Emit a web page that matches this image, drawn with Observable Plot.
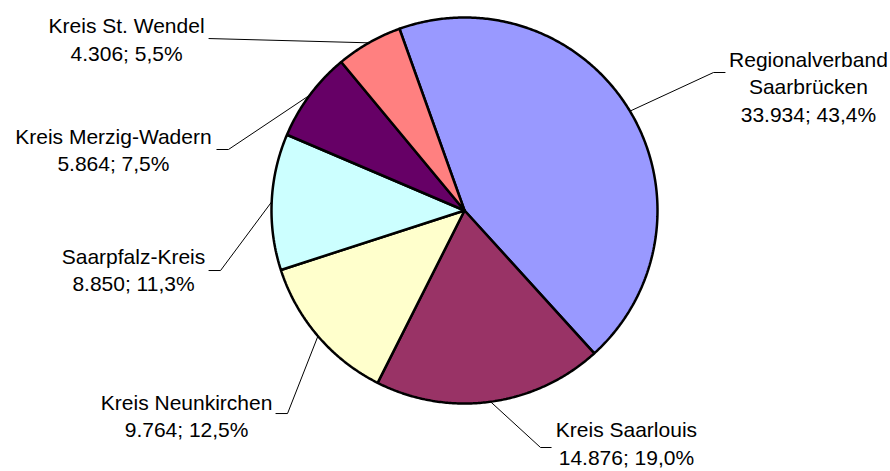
<!DOCTYPE html>
<html>
<head>
<meta charset="utf-8">
<script src="https://cdn.jsdelivr.net/npm/d3@7"></script>
<script src="https://cdn.jsdelivr.net/npm/@observablehq/plot@0.6"></script>
<style>
  html, body { margin: 0; padding: 0; background: #fff; }
  #chart { width: 890px; height: 471px; }
</style>
</head>
<body>
<div id="chart"></div>
<script>
// ---- data ----
const regions = ["Regionalverband\nSaarbrücken", "Kreis Saarlouis", "Kreis Neunkirchen", "Saarpfalz-Kreis", "Kreis Merzig-Wadern", "Kreis St. Wendel"];
const values = [33934, 14876, 9764, 8850, 5864, 4306];
const percentLabels = [43.4, 19.0, 12.5, 11.3, 7.5, 5.5];

// ---- styling / layout config ----
const sliceColors = ["#9999FF", "#993366", "#FFFFCC", "#CCFFFF", "#660066", "#FF8080"];
const startAngleDeg = 340.3; // clockwise from 12 o'clock
// label block centres, leader elbow and end points (in pie-radius units)
const labelPos = [[1.782, 0.648], [0.839, -1.200], [-1.440, -1.057], [-1.715, -0.301], [-1.819, 0.321], [-1.751, 0.894]];
const leaderElbow = [[1.290, 0.715], [0.394, -1.228], [-0.917, -1.052], [-1.264, -0.311], [-1.223, 0.316], [-1.326, 0.891]];
const leaderEnd = [[1.352, 0.715], [0.451, -1.228], [-0.979, -1.052], [-1.326, -0.311], [-1.285, 0.316], [-1.326, 0.891]];

const locale = d3.formatLocale({decimal: ",", thousands: ".", grouping: [3], currency: ["", " €"]});
const fmtInt = locale.format(",d");
const fmtPct = locale.format(".1f");

const total = d3.sum(values);
const rad = Math.PI / 180;
let acc = startAngleDeg;
const slices = values.map((v, i) => {
  const a0 = acc, a1 = acc + v / total * 360;
  acc = a1;
  const pts = [{x: 0, y: 0}];
  const n = Math.max(2, Math.ceil((a1 - a0) / 0.5));
  for (let k = 0; k <= n; k++) {
    const a = (a0 + (a1 - a0) * k / n) * rad;
    pts.push({x: Math.sin(a), y: Math.cos(a)});
  }
  pts.push({x: 0, y: 0});
  const mid = (a0 + a1) / 2 * rad;
  return {i, pts, mid};
});

const leaders = slices.flatMap(s => [
  {k: s.i, x: Math.sin(s.mid), y: Math.cos(s.mid)},
  {k: s.i, x: leaderElbow[s.i][0], y: leaderElbow[s.i][1]},
  {k: s.i, x: leaderEnd[s.i][0], y: leaderEnd[s.i][1]}
]);

const labels = regions.map((r, i) => ({
  x: labelPos[i][0], y: labelPos[i][1],
  text: `${r}\n${fmtInt(values[i])}; ${fmtPct(percentLabels[i])}%`
}));

const chart = Plot.plot({
  width: 890,
  height: 471,
  marginLeft: 271,
  marginRight: 233,
  marginTop: 17,
  marginBottom: 68,
  x: {domain: [-1, 1], axis: null},
  y: {domain: [-1, 1], axis: null},
  style: {background: "#fff", fontFamily: "'Liberation Sans', Arial, sans-serif"},
  marks: [
    ...slices.map(s => Plot.line(s.pts, {
      x: "x", y: "y", fill: sliceColors[s.i], stroke: "#000",
      strokeWidth: 2.5, strokeLinejoin: "miter", curve: "linear"
    })),
    Plot.line(leaders, {x: "x", y: "y", z: "k", stroke: "#000", strokeWidth: 1, strokeLinejoin: "miter", strokeLinecap: "butt"}),
    Plot.text(labels, {
      x: "x", y: "y", text: "text", fontSize: 21, lineHeight: 1.32,
      textAnchor: "middle", lineAnchor: "middle", fill: "#000",
      fontFamily: "'Liberation Sans', Arial, sans-serif"
    })
  ]
});
document.getElementById("chart").appendChild(chart);
</script>
</body>
</html>
